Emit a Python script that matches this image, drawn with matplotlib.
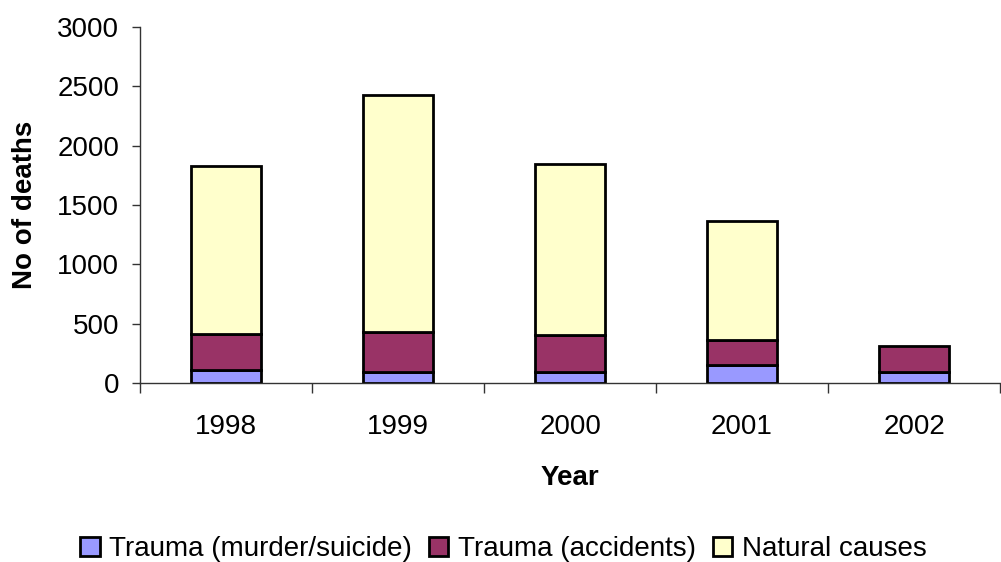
import matplotlib.pyplot as plt
import numpy as np

years = ["1998", "1999", "2000", "2001", "2002"]
murder_suicide = [106, 89, 93, 152, 93]
accidents = [304, 337, 311, 210, 220]
natural = [1421, 2000, 1444, 999, 0]

plt.rcParams['font.family'] = ['Liberation Sans', 'DejaVu Sans']

fig = plt.figure(figsize=(10.01, 5.62), dpi=100)
ax = fig.add_axes([0.14, 0.3185, 0.859, 0.6335])

x = np.arange(len(years))
w = 0.41
edge = dict(edgecolor='black', linewidth=2)
b1 = np.array(murder_suicide)
b2 = b1 + np.array(accidents)
ax.bar(x, murder_suicide, w, color='#9999FF', label='Trauma (murder/suicide)', **edge)
ax.bar(x, accidents, w, bottom=b1, color='#993366', label='Trauma (accidents)', **edge)
nat_mask = np.array(natural) > 0
ax.bar(x[nat_mask], np.array(natural)[nat_mask], w, bottom=b2[nat_mask],
       color='#FFFFCC', label='Natural causes', **edge)

ax.set_xlim(-0.5, len(years) - 0.5)
ax.set_ylim(0, 3000)
ax.set_yticks(range(0, 3001, 500))
ax.set_xticks(x)
ax.set_xticklabels(years)
ax.tick_params(axis='x', length=0, labelsize=20, pad=22)
ax.set_xticks(np.arange(-0.5, len(years), 1.0), minor=True)
ax.tick_params(axis='x', which='minor', length=7, width=1, color='#333333')
ax.tick_params(axis='y', length=6, width=1, color='#333333', labelsize=20, pad=9)

for s in ['top', 'right']:
    ax.spines[s].set_visible(False)
for s in ['left', 'bottom']:
    ax.spines[s].set_color('#333333')
    ax.spines[s].set_linewidth(1)

ax.set_xlabel("Year", fontsize=20, fontweight='bold', labelpad=18)
ax.set_ylabel("No of deaths", fontsize=20, fontweight='bold', labelpad=14)

fig.legend(loc='lower center', bbox_to_anchor=(0.503, -0.045), ncol=3, frameon=False,
           fontsize=20, handlelength=0.7, handleheight=0.7, handletextpad=0.35,
           columnspacing=0.6)

fig.savefig("out.png", dpi=100)
